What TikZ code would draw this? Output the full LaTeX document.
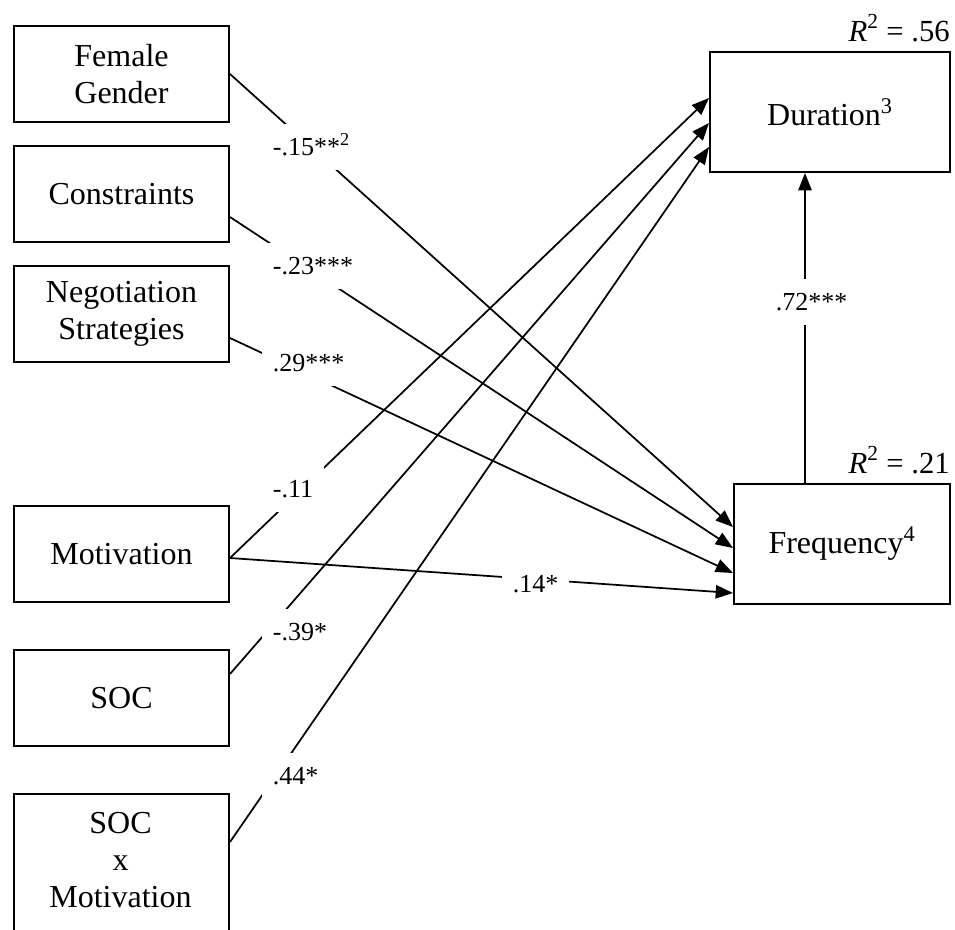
\documentclass[tikz,border=0pt]{standalone}
\usepackage{fontspec}
\setmainfont{Liberation Serif}
\usetikzlibrary{arrows.meta,calc}

\begin{document}
\begin{tikzpicture}[x=0.75pt,y=-0.75pt,
  boxfont/.style={font=\fontsize{24}{27.75}\selectfont},
  varbox/.style={draw, line width=1.5pt, rectangle, inner sep=0pt,
    minimum width=161.25pt, minimum height=72pt, anchor=north west,
    align=center, boxfont},
  outbox/.style={draw, line width=1.5pt, rectangle, inner sep=0pt,
    minimum height=90pt, anchor=north west, boxfont},
  effect/.style={line width=1.3pt, -{Triangle[length=13pt,width=10pt]}},
  coef/.style={fill=white, anchor=west, inner xsep=8pt, inner ysep=0pt,
    minimum height=34pt, text height=13.2pt, text depth=0pt,
    font=\fontsize{19.5}{22}\selectfont},
  rsq/.style={anchor=base east, inner sep=0pt, font=\fontsize{23}{26}\selectfont}
]
\useasboundingbox (0,0) rectangle (955,929);

% predictors
\node[varbox] (fg)  at (13,25)  {Female\\Gender};
\node[varbox] (con) at (13,145) {Constraints};
\node[varbox] (neg) at (13,265) {Negotiation\\Strategies};
\node[varbox] (mot) at (13,505) {Motivation};
\node[varbox] (soc) at (13,649) {SOC};
\node[varbox, minimum height=150pt] (sxm) at (13,793) {};
\node[align=center, inner sep=0pt, boxfont] (sxmtext) at (120.5,860) {SOC\\x\\Motivation};

% outcomes
\node[outbox, minimum width=180pt] (dur)  at (709,51)  {Duration\textsuperscript{3}};
\node[outbox, minimum width=162pt] (freq) at (733,483) {Frequency\textsuperscript{4}};

\node[rsq] (rdur)  at ($(dur.north east)+(-1,-10)$)  {\textit{R}\textsuperscript{2} = .56};
\node[rsq] (rfreq) at ($(freq.north east)+(-1,-10)$) {\textit{R}\textsuperscript{2} = .21};

% paths to frequency
\draw[effect] (fg.east) -- ($(freq.north west)+(0,44)$);
\draw[effect] ($(con.east)+(0,23)$) -- ($(freq.north west)+(0,65)$);
\draw[effect] ($(neg.east)+(0,24)$) -- ($(freq.north west)+(0,90)$);
\draw[effect] ($(mot.east)+(0,4)$) -- ($(freq.north west)+(0,110)$);

% paths to duration
\draw[effect] ($(mot.east)+(0,4)$) -- ($(dur.north west)+(0,47)$);
\draw[effect] ($(soc.east)+(0,-24)$) -- ($(dur.north west)+(0,72)$);
\draw[effect] ($(sxm.north east)+(0,49)$) -- ($(dur.north west)+(0,96)$);

% frequency -> duration
\coordinate (fqtop) at ($(freq.north west)+(72,0)$);
\draw[effect] (fqtop) -- (fqtop |- dur.south);

% path coefficients
\node[coef] (c15) at (262,147) {-.15**\textsuperscript{2}};
\node[coef] (c23) at (262,266) {-.23***};
\node[coef] (c29) at (262,363) {.29***};
\node[coef] (c11) at (262,489) {-.11};
\node[coef] (c39) at (262,632) {-.39*};
\node[coef] (c44) at (262,776) {.44*};
\node[coef] (c14) at (502,584) {.14*};
\node[coef] (c72) at (765,302) {.72***};
\end{tikzpicture}
\end{document}
